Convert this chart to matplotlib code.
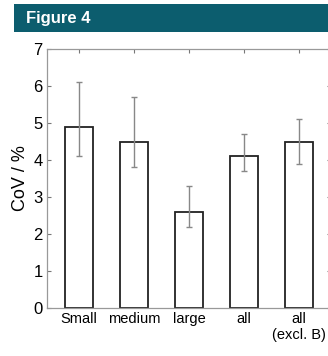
import matplotlib
matplotlib.use("Agg")
import matplotlib.pyplot as plt
from matplotlib.patches import Rectangle

categories = ["Small", "medium", "large", "all", "all\n(excl. B)"]
values = [4.9, 4.5, 2.6, 4.1, 4.5]
err_low = [4.1, 3.8, 2.2, 3.7, 3.9]
err_high = [6.1, 5.7, 3.3, 4.7, 5.1]
yticks = [0, 1, 2, 3, 4, 5, 6, 7]

plt.rcParams['font.family'] = ['Liberation Sans', 'DejaVu Sans']

W, H = 328, 356
fig = plt.figure(figsize=(W / 100, H / 100), dpi=100)

# header band
fig.patches.append(Rectangle((14 / W, 1 - 32 / H), 1, 28 / H, transform=fig.transFigure,
                             facecolor="#0c5d6e", edgecolor="none", zorder=0))
fig.text(26 / W, 1 - 18.5 / H, "Figure 4", color="white", fontsize=12, fontweight="bold",
         va="center", ha="left")

ax = fig.add_axes([47 / W, 48 / H, 284 / W, 259 / H])
x = list(range(1, len(categories) + 1))
ax.bar(x, values, width=0.5, facecolor="white", edgecolor="#222222", linewidth=1.3, zorder=2)
yerr = [[v - l for v, l in zip(values, err_low)], [h - v for v, h in zip(values, err_high)]]
ax.errorbar(x, values, yerr=yerr, fmt="none", ecolor="#888888", elinewidth=1.0,
            capsize=2, capthick=1.0, zorder=3)

ax.set_xlim(0.42, 5.58)
ax.set_ylim(0, 7)
ax.set_xticks(x)
ax.set_xticklabels(categories, fontsize=10.5)
ax.set_yticks(yticks)
ax.set_yticklabels([str(t) for t in yticks], fontsize=12)
ax.set_ylabel("CoV / %", fontsize=13, labelpad=3)
ax.tick_params(direction="in", length=3, width=0.8, color="#777777", top=True, right=True,
               pad=3)
for s in ax.spines.values():
    s.set_color("#999999")
    s.set_linewidth(0.9)

fig.savefig("out.png", dpi=100)
